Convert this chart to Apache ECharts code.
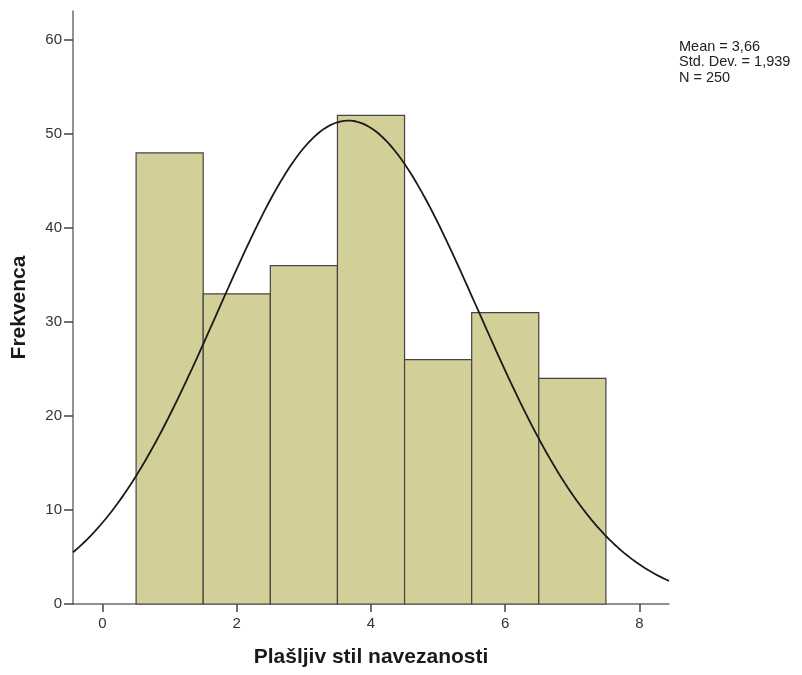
<!DOCTYPE html>
<html>
<head>
<meta charset="utf-8">
<script src="https://cdn.jsdelivr.net/npm/echarts@6/dist/echarts.min.js"></script>
<style>
  html, body { margin: 0; padding: 0; background: #fff; }
  #chart { width: 802px; height: 675px; }
</style>
</head>
<body>
<div id="chart"></div>
<script>
// Histogram bins (centre values) and their frequencies
const binCenters = [1, 2, 3, 4, 5, 6, 7];
const frequencies = [48, 33, 36, 52, 26, 31, 24];
const binWidth = 1;

// Summary statistics shown in the corner and used for the normal curve
const statMean = 3.66;
const statSd = 1.939;
const statN = 250;

const xTicks = [0, 2, 4, 6, 8];
const yTicks = [0, 10, 20, 30, 40, 50, 60];

const xMin = -0.44, xMax = 8.44;
const yMin = 0, yMax = 63.1;

// Bars as [left edge, right edge, count]
const barData = binCenters.map((c, i) => [c - binWidth / 2, c + binWidth / 2, frequencies[i]]);

// Normal density scaled to counts (N * bin width)
const curveData = [];
const steps = 200;
for (let k = 0; k <= steps; k++) {
  const x = xMin + (xMax - xMin) * k / steps;
  const z = (x - statMean) / statSd;
  const y = statN * binWidth / (statSd * Math.sqrt(2 * Math.PI)) * Math.exp(-0.5 * z * z);
  curveData.push([x, y]);
}

const fontFamily = '"Liberation Sans", Arial, sans-serif';
const axisColor = '#6e6e6e';

const chart = echarts.init(document.getElementById('chart'), null, { renderer: 'canvas' });
chart.setOption({
  animation: false,
  backgroundColor: '#ffffff',
  grid: { left: 73, right: 133, top: 11, bottom: 71, containLabel: false },
  xAxis: {
    type: 'value',
    min: xMin,
    max: xMax,
    name: 'Plašljiv stil navezanosti',
    nameLocation: 'middle',
    nameGap: 43,
    nameTextStyle: { fontFamily, fontSize: 21, fontWeight: 'bold', color: '#1a1a1a' },
    axisLine: { show: true, onZero: false, lineStyle: { color: axisColor, width: 1.5 } },
    axisTick: { show: true, customValues: xTicks, length: 8, lineStyle: { color: '#444', width: 1.5 } },
    axisLabel: { customValues: xTicks, fontFamily, fontSize: 15, color: '#333', margin: 12 },
    splitLine: { show: false }
  },
  yAxis: {
    type: 'value',
    min: yMin,
    max: yMax,
    name: 'Frekvenca',
    nameLocation: 'middle',
    nameGap: 43,
    nameRotate: 90,
    nameTextStyle: { fontFamily, fontSize: 21, fontWeight: 'bold', color: '#1a1a1a' },
    axisLine: { show: true, onZero: false, lineStyle: { color: axisColor, width: 1.5 } },
    axisTick: { show: true, customValues: yTicks, length: 9, lineStyle: { color: '#444', width: 1.5 } },
    axisLabel: { customValues: yTicks, fontFamily, fontSize: 15, color: '#333', margin: 11 },
    splitLine: { show: false }
  },
  series: [
    {
      type: 'custom',
      data: barData,
      encode: { x: [0, 1], y: 2 },
      renderItem: function (params, api) {
        const p0 = api.coord([api.value(0), api.value(2)]);
        const p1 = api.coord([api.value(1), 0]);
        return {
          type: 'rect',
          shape: { x: p0[0], y: p0[1], width: p1[0] - p0[0], height: p1[1] - p0[1] },
          style: { fill: '#d3cf98', stroke: '#444444', lineWidth: 1.2 }
        };
      },
      z: 2
    },
    {
      type: 'line',
      data: curveData,
      showSymbol: false,
      smooth: false,
      lineStyle: { color: '#1a1a1a', width: 1.8 },
      z: 3
    }
  ],
  graphic: [
    {
      type: 'text',
      left: 679,
      top: 39,
      style: {
        text: 'Mean = 3,66\nStd. Dev. = 1,939\nN = 250',
        fontFamily,
        fontSize: 14.5,
        lineHeight: 15.5,
        fill: '#222'
      }
    }
  ]
});
</script>
</body>
</html>
